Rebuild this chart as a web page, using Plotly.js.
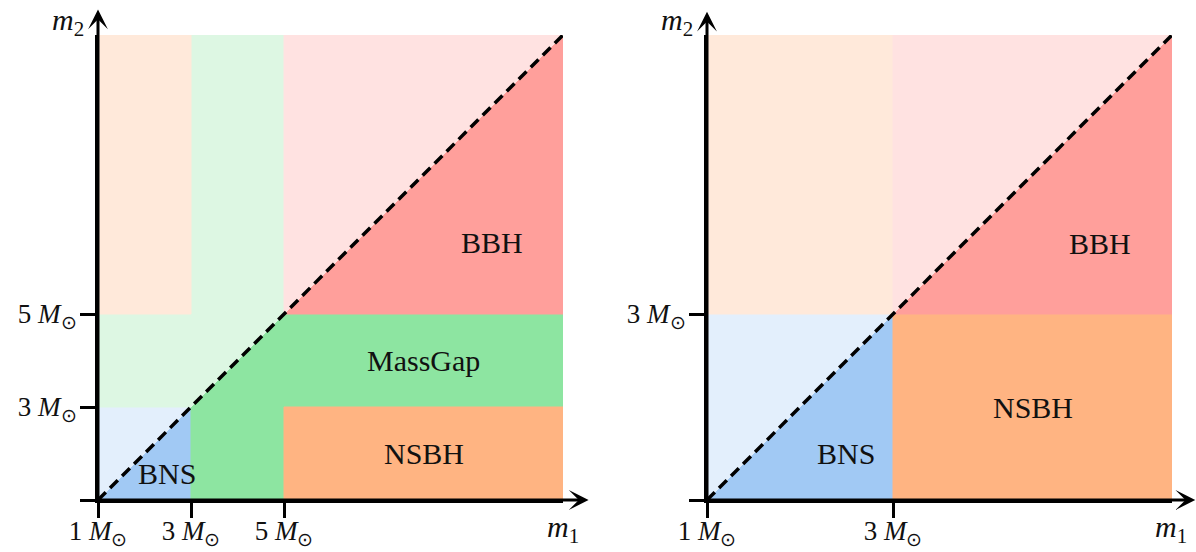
<!DOCTYPE html>
<html>
<head>
<meta charset="utf-8">
<script src="https://cdn.plot.ly/plotly-3.0.1.min.js"></script>
<style>html,body{margin:0;padding:0;background:#fff;}#chart{width:1196px;height:552px;}</style>
</head>
<body>
<div id="chart"></div>
<script>
// ---- data ----
const classes = ['BNS', 'MassGap', 'NSBH', 'BBH'];
const classColors = ['#a1c9f4', '#8de5a1', '#ffb482', '#ff9f9b'];
const leftMassRange = [1, 11];   // m in solar masses
const leftNsMax = 3;             // max neutron star mass
const leftGapMax = 5;            // upper edge of mass gap
const rightMassRange = [1, 6];
const rightNsMax = 3;
const rightGapMax = 3;           // no mass gap
const leftXTickVals = [1, 3, 5];
const leftXTickText = ['1 <i>M</i><sub>⊙</sub>', '3 <i>M</i><sub>⊙</sub>', '5 <i>M</i><sub>⊙</sub>'];
const leftYTickVals = [3, 5];
const leftYTickText = ['3 <i>M</i><sub>⊙</sub>', '5 <i>M</i><sub>⊙</sub>'];
const rightXTickVals = [1, 3];
const rightXTickText = ['1 <i>M</i><sub>⊙</sub>', '3 <i>M</i><sub>⊙</sub>'];
const rightYTickVals = [3];
const rightYTickText = ['3 <i>M</i><sub>⊙</sub>'];
const xAxisLabel = '<i>m</i><sub>1</sub>';
const yAxisLabel = '<i>m</i><sub>2</sub>';

// ---- helpers ----
function blendWhite(hex, a) {
  const r = parseInt(hex.slice(1,3),16), g = parseInt(hex.slice(3,5),16), b = parseInt(hex.slice(5,7),16);
  const f = c => Math.round(c + (255 - c) * a);
  return 'rgb(' + f(r) + ',' + f(g) + ',' + f(b) + ')';
}
function regionPolys(lo, ns, gap, hi) {
  return {
    BNS: [[lo,lo],[ns,lo],[ns,ns]],
    MassGap: gap > ns ? [[ns,lo],[gap,lo],[gap,ns],[hi,ns],[hi,gap],[gap,gap],[ns,ns]] : null,
    NSBH: [[gap,lo],[hi,lo],[hi,ns],[gap,ns]],
    BBH: [[gap,gap],[hi,gap],[hi,hi]]
  };
}
const traces = [];
function addPanel(range, ns, gap, xa, ya) {
  const polys = regionPolys(range[0], ns, gap, range[1]);
  classes.forEach((c, i) => {
    const p = polys[c];
    if (!p) return;
    const dark = classColors[i], light = blendWhite(classColors[i], 0.7);
    traces.push({x: p.map(v=>v[0]).concat([p[0][0]]), y: p.map(v=>v[1]).concat([p[0][1]]),
      xaxis: xa, yaxis: ya, type: 'scatter', mode: 'lines', fill: 'toself',
      fillcolor: dark, line: {color: dark, width: 1}, hoverinfo: 'skip', showlegend: false});
    traces.push({x: p.map(v=>v[1]).concat([p[0][1]]), y: p.map(v=>v[0]).concat([p[0][0]]),
      xaxis: xa, yaxis: ya, type: 'scatter', mode: 'lines', fill: 'toself',
      fillcolor: light, line: {color: light, width: 1}, hoverinfo: 'skip', showlegend: false});
  });
  traces.push({x: range, y: range, xaxis: xa, yaxis: ya, type: 'scatter', mode: 'lines',
    line: {color: '#000', width: 3.5, dash: '11px,6px'}, cliponaxis: false,
    hoverinfo: 'skip', showlegend: false});
}
addPanel(leftMassRange, leftNsMax, leftGapMax, 'x', 'y');
addPanel(rightMassRange, rightNsMax, rightGapMax, 'x2', 'y2');

const serif = '"Liberation Serif", "Times New Roman", serif';
function axis(range, tv, tt, dom, anchor, isY) {
  const a = {range: range, domain: dom, anchor: anchor, showgrid: false, zeroline: false,
    showline: true, linecolor: '#000', linewidth: 3,
    tickmode: 'array', tickvals: tv, ticktext: tt, ticks: 'outside', ticklen: 15, tickwidth: 3, tickcolor: '#000',
    ticklabelstandoff: isY ? -2 : -10,
    tickfont: {family: serif, size: 27, color: '#111'}, fixedrange: true};
  if (isY) a.minor = {tickmode: 'array', tickvals: [range[0]], ticks: 'outside', ticklen: 15, tickwidth: 3, tickcolor: '#000', showgrid: false};
  return a;
}

function arrow(xr, yr_, x, y, ax, ay) {
  return {xref: xr, yref: yr_, axref: xr, ayref: yr_, x: x, y: y, ax: ax, ay: ay, text: '',
    showarrow: true, arrowhead: 3, arrowsize: 1.1, arrowwidth: 3, arrowcolor: '#000', standoff: 0};
}
function lbl(xr, yr_, x, y, t, size) {
  return {xref: xr, yref: yr_, x: x, y: y, text: t, showarrow: false,
    xanchor: 'center', yanchor: 'middle',
    font: {family: serif, size: size || 30, color: '#111'}};
}
const L = leftMassRange, R = rightMassRange;
const annotations = [
  arrow('x', 'y', 11.55, L[0], L[0], L[0]),
  arrow('x', 'y', L[0], 11.55, L[0], L[0]),
  arrow('x2', 'y2', 6.25, R[0], R[0], R[0]),
  arrow('x2', 'y2', R[0], 6.25, R[0], R[0]),
  lbl('paper', 'paper', 563/1196, 1 - 529/552, xAxisLabel, 30),
  lbl('paper', 'paper', 68/1196, 1 - 22/552, yAxisLabel, 30),
  lbl('paper', 'paper', 1171/1196, 1 - 529/552, xAxisLabel, 30),
  lbl('paper', 'paper', 677/1196, 1 - 22/552, yAxisLabel, 30),
  lbl('x', 'y', 9.47, 6.53, classes[3]),
  lbl('x', 'y', 8.0, 4.0, classes[1]),
  lbl('x', 'y', 8.0, 2.0, classes[2]),
  lbl('x', 'y', 2.48, 1.56, classes[0]),
  lbl('x2', 'y2', 5.23, 3.76, classes[3]),
  lbl('x2', 'y2', 4.5, 2.0, classes[2]),
  lbl('x2', 'y2', 2.49, 1.5, classes[0])
];

const layout = {
  width: 1196, height: 552,
  margin: {l: 0, r: 0, t: 0, b: 0},
  paper_bgcolor: '#fff', plot_bgcolor: '#fff',
  showlegend: false,
  xaxis: axis(L, leftXTickVals, leftXTickText, [98/1196, 563/1196], 'y', false),
  yaxis: axis(L, leftYTickVals, leftYTickText, [52/552, 517/552], 'x', true),
  xaxis2: axis(R, rightXTickVals, rightXTickText, [707/1196, 1172/1196], 'y2', false),
  yaxis2: axis(R, rightYTickVals, rightYTickText, [52/552, 517/552], 'x2', true),
  annotations: annotations
};
Plotly.newPlot('chart', traces, layout, {staticPlot: true, displayModeBar: false});
</script>
</body>
</html>
